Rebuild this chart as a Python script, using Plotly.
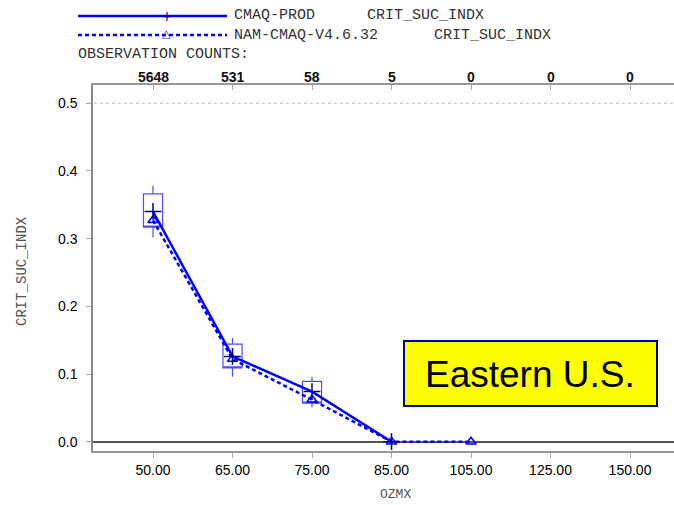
import plotly.graph_objects as go

# ---------------- data ----------------
categories = ["50.00", "65.00", "75.00", "85.00", "105.00", "125.00", "150.00"]
obs_counts = ["5648", "531", "58", "5", "0", "0", "0"]
cmaq_prod = [0.340, 0.126, 0.074, 0.0, None, None, None]
nam_cmaq = [0.327, 0.122, 0.062, 0.0, 0.0, None, None]
box_lower = [0.302, 0.096, 0.051]
box_q1 = [0.317, 0.109, 0.057]
box_q3 = [0.366, 0.144, 0.089]
box_upper = [0.378, 0.153, 0.096]
y_ticks = [0.0, 0.1, 0.2, 0.3, 0.4, 0.5]

# ---------------- geometry helpers ----------------
W, H = 674, 505
L, R, T, B = 93, 674, 85, 451
def px(xp):
    return (xp - L) / (R - L)
def py(yp):
    return (B - yp) / (B - T)

idx = list(range(len(categories)))
BLUE = "#0000ff"
MONO = "Liberation Mono, DejaVu Sans Mono, monospace"
SANS = "Liberation Sans, Arial, sans-serif"

fig = go.Figure()

# boxes
fig.add_trace(go.Box(
    x=idx[:len(box_q1)], q1=box_q1, median=box_q1, q3=box_q3,
    lowerfence=box_lower, upperfence=box_upper,
    width=0.24, whiskerwidth=0, line=dict(color="#4d4dff", width=1.2),
    fillcolor="rgba(0,0,0,0)", showlegend=False, hoverinfo="skip"))

fig.add_trace(go.Scatter(
    x=idx, y=nam_cmaq, mode="lines+markers", name="NAM-CMAQ-V4.6.32",
    line=dict(color=BLUE, width=2.5, dash="4px,3px"),
    marker=dict(symbol="triangle-up-open", size=9, color=BLUE, line=dict(width=1.5, color=BLUE)),
    showlegend=False, connectgaps=False))

fig.add_trace(go.Scatter(
    x=idx, y=cmaq_prod, mode="lines+markers", name="CMAQ-PROD",
    line=dict(color=BLUE, width=2.5),
    marker=dict(symbol="cross-thin-open", size=12, color="#000088", line=dict(width=1.5, color="#000088")),
    showlegend=False, connectgaps=False))

# dummy trace for top axis
fig.add_trace(go.Scatter(x=[None], y=[None], xaxis="x2", showlegend=False, hoverinfo="skip"))

xr = [(L - 153) / 79.5, (R - 153) / 79.5]
y0px = 441.7
per = 677.0
yr = [-(B - y0px) / per, (y0px - T) / per]

fig.update_layout(
    width=W, height=H,
    margin=dict(l=L, r=W - R, t=T, b=H - B, pad=0),
    plot_bgcolor="white", paper_bgcolor="white",
    xaxis=dict(range=xr, tickmode="array", tickvals=idx, ticktext=categories,
               showgrid=False, zeroline=False, showline=True, mirror=True,
               linecolor="#999999", linewidth=1.5, ticks="outside", ticklen=5,
               tickcolor="#aaaaaa", tickfont=dict(family=SANS, size=14, color="#000000")),
    xaxis2=dict(range=xr, overlaying="x", side="top", anchor="y", tickmode="array",
                tickvals=idx, showticklabels=False, ticks="inside", ticklen=5,
                tickcolor="#aaaaaa", showgrid=False, zeroline=False, showline=False),
    yaxis=dict(range=yr, tickmode="array", tickvals=y_ticks,
               ticktext=[f"{v:.1f}" for v in y_ticks],
               showgrid=False, zeroline=True, zerolinecolor="#555555", zerolinewidth=1.5,
               showline=True, linecolor="#888888", linewidth=1.5,
               ticks="outside", ticklen=5, tickcolor="#aaaaaa", ticklabelstandoff=6,
               tickfont=dict(family=SANS, size=14, color="#000000")),
    showlegend=False,
)

# dotted line at 0.5
fig.add_shape(type="line", xref="paper", yref="y", x0=px(88), x1=1, y0=0.5, y1=0.5,
              line=dict(color="#bbbbbb", width=1, dash="dot"))

# legend lines
fig.add_shape(type="line", xref="paper", yref="paper", x0=px(78), x1=px(227),
              y0=py(16), y1=py(16), line=dict(color=BLUE, width=2.5))
fig.add_shape(type="line", xref="paper", yref="paper", x0=px(78), x1=px(227),
              y0=py(35), y1=py(35), line=dict(color=BLUE, width=2.5, dash="4px,3px"))

ann = []
ann.append(dict(x=px(166.5), y=py(16), xref="paper", yref="paper", text="+",
                showarrow=False, font=dict(family="DejaVu Sans", size=14, color="#000088"),
                xanchor="center", yanchor="middle"))
ann.append(dict(x=px(166.5), y=py(34), xref="paper", yref="paper", text="△",
                showarrow=False, font=dict(family="DejaVu Sans", size=11, color=BLUE),
                xanchor="center", yanchor="middle"))
legend_texts = [("CMAQ-PROD", 232, 16), ("CRIT_SUC_INDX", 365, 16),
                ("NAM-CMAQ-V4.6.32", 232, 35), ("CRIT_SUC_INDX", 431.5, 35),
                ("OBSERVATION COUNTS:", 76, 54)]
for t, xp, yp in legend_texts:
    ann.append(dict(x=px(xp), y=py(yp), xref="paper", yref="paper", text=t,
                    showarrow=False, font=dict(family=MONO, size=15, color="#333333"),
                    xanchor="left", yanchor="middle"))
for i, c in enumerate(obs_counts):
    ann.append(dict(x=idx[i], y=py(77), xref="x", yref="paper", text=f"<b>{c}</b>",
                    showarrow=False, font=dict(family=SANS, size=14, color="#111111"),
                    xanchor="center", yanchor="middle"))
# axis titles
ann.append(dict(x=px(22), y=py(271), xref="paper", yref="paper", text="CRIT_SUC_INDX",
                textangle=-90, showarrow=False, font=dict(family=MONO, size=14, color="#555555"),
                xanchor="center", yanchor="middle"))
ann.append(dict(x=px(396), y=py(504), xref="paper", yref="paper", text="OZMX",
                showarrow=False, font=dict(family=MONO, size=13, color="#555555"),
                xanchor="center", yanchor="bottom"))

# Eastern U.S. box
fig.add_shape(type="rect", xref="paper", yref="paper", x0=px(404), x1=px(657),
              y0=py(406), y1=py(341), fillcolor="#ffff00", line=dict(color="#000099", width=2))
ann.append(dict(x=px(530), y=py(374), xref="paper", yref="paper", text="Eastern U.S.",
                showarrow=False, font=dict(family=SANS, size=37, color="black"),
                xanchor="center", yanchor="middle"))

fig.update_layout(annotations=ann)
fig.write_html("out.html")
